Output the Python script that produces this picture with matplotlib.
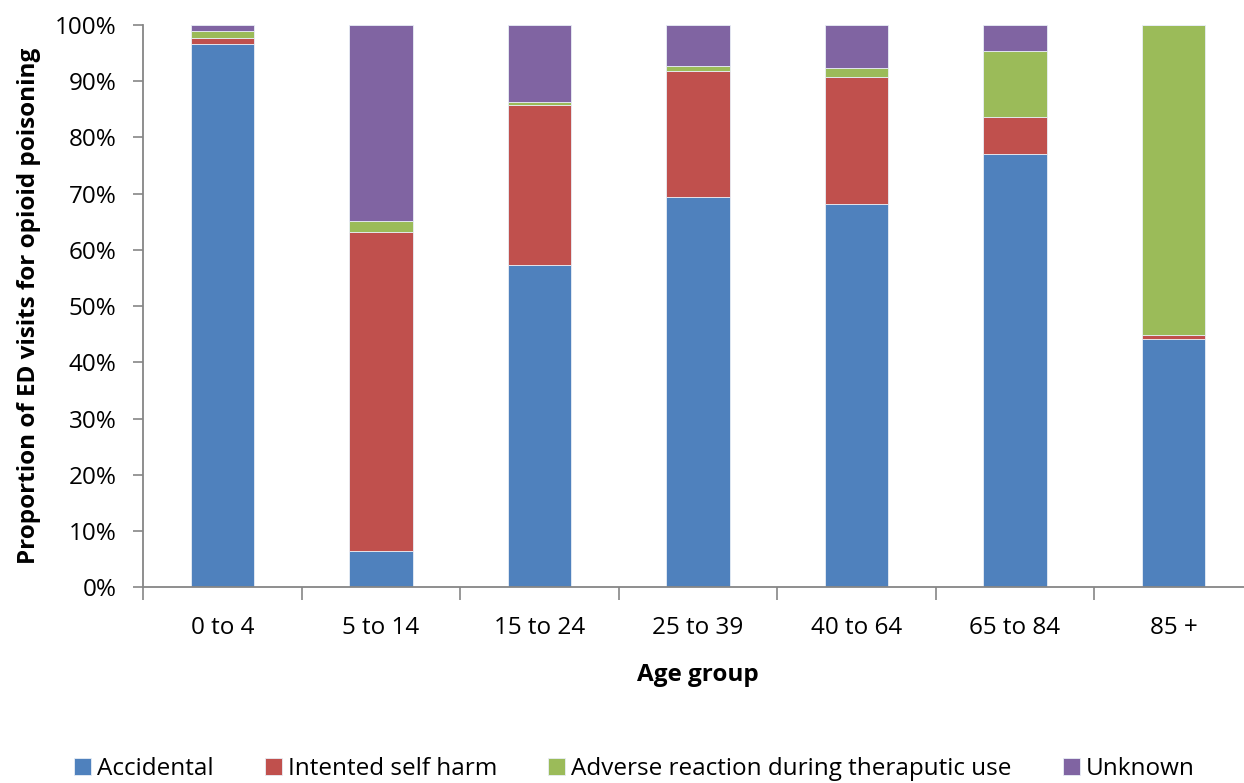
import numpy as np
import matplotlib.pyplot as plt
from matplotlib.ticker import PercentFormatter, FixedLocator

plt.rcParams['font.family'] = ['Open Sans', 'DejaVu Sans']

age_groups = ['0 to 4', '5 to 14', '15 to 24', '25 to 39', '40 to 64', '65 to 84', '85 +']
# cumulative tops (%) read per stack, converted to segment sizes below
accidental = [96.6, 6.5, 57.4, 69.5, 68.2, 77.1, 44.1]
self_harm_top = [97.7, 63.2, 85.7, 91.9, 90.8, 83.6, 44.8]
adverse_top = [98.9, 65.1, 86.4, 92.8, 92.3, 95.4, 100.0]

self_harm = np.array(self_harm_top) - np.array(accidental)
adverse = np.array(adverse_top) - np.array(self_harm_top)
unknown = 100.0 - np.array(adverse_top)

series = [
    ('Accidental', accidental, '#4F81BD'),
    ('Intented self harm', self_harm, '#C0504D'),
    ('Adverse reaction during theraputic use', adverse, '#9BBB59'),
    ('Unknown', unknown, '#8064A2'),
]

fig = plt.figure(figsize=(12.44, 7.83), dpi=100)
ax = fig.add_axes([0.115, 0.25, 0.892, 0.718])

x = np.arange(len(age_groups))
bottom = np.zeros(len(age_groups))
for name, vals, col in series:
    ax.bar(x, vals, 0.40, bottom=bottom, color=col, label=name,
           edgecolor='#e8eef6', linewidth=0.6)
    bottom = bottom + np.array(vals)

ax.set_xlim(-0.5, len(age_groups) - 0.5)
ax.set_ylim(0, 100)
ax.yaxis.set_major_locator(FixedLocator(np.arange(0, 101, 10)))
ax.yaxis.set_major_formatter(PercentFormatter(decimals=0))
ax.set_xticks(x)
ax.set_xticklabels(age_groups)
ax.set_xticks(np.arange(-0.5, len(age_groups), 1), minor=True)
ax.tick_params(axis='x', which='major', length=0, pad=21, labelsize=17.5)
ax.tick_params(axis='x', which='minor', length=9, color='#868686', width=1.2)
ax.tick_params(axis='y', length=7, color='#868686', width=1.2, labelsize=17.5, pad=12)

for side in ['top', 'right']:
    ax.spines[side].set_visible(False)
for side in ['left', 'bottom']:
    ax.spines[side].set_color('#868686')
    ax.spines[side].set_linewidth(1.3)

ax.set_xlabel('Age group', fontsize=17.5, fontweight='bold', labelpad=16)
ax.set_ylabel('Proportion of ED visits for opioid poisoning', fontsize=17.5,
              fontweight='bold', labelpad=10)

fig.legend(loc='lower center', bbox_to_anchor=(0.51, -0.025), ncol=4,
           frameon=False, fontsize=17.5, handlelength=0.7, handleheight=0.7,
           handletextpad=0.25, columnspacing=2.1)

fig.savefig('out.png', dpi=100)
